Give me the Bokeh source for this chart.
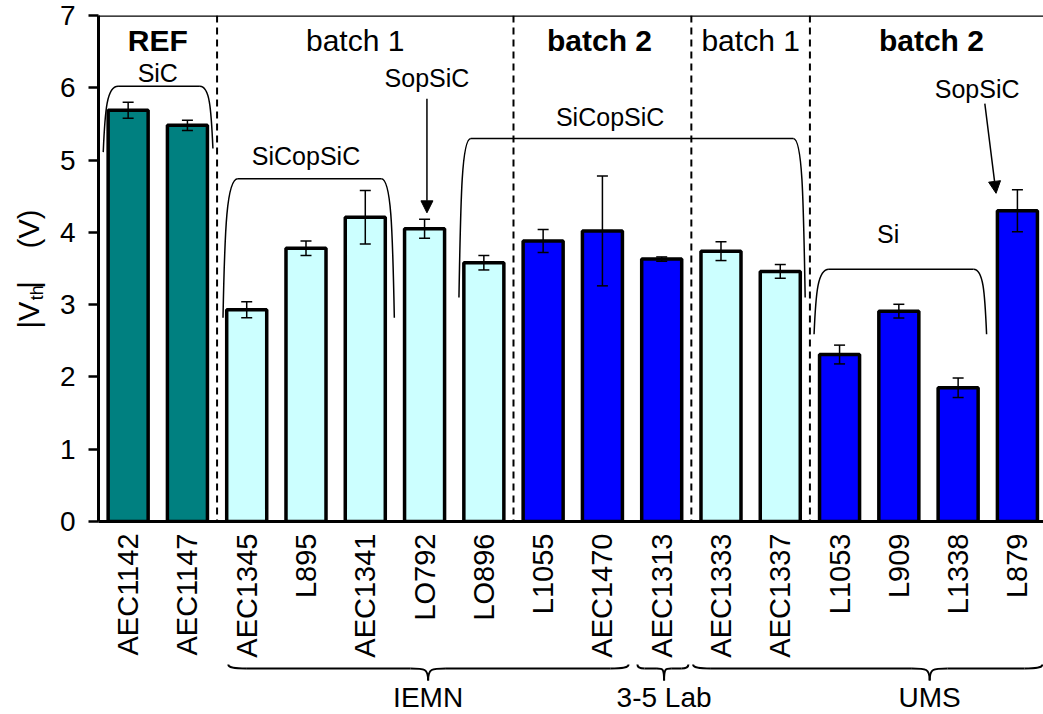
import math
from bokeh.plotting import figure
from bokeh.models import (Range1d, FixedTicker, Span, Whisker, TeeHead, Arrow,
                          NormalHead, ColumnDataSource)
from bokeh.layouts import column, row
from bokeh.core.properties import value
from bokeh.embed import file_html
from bokeh.resources import INLINE

FONT = "Liberation Sans"

# ---------------- data ----------------
categories = ["AEC1142", "AEC1147", "AEC1345", "L895", "AEC1341", "LO792", "LO896",
              "L1055", "AEC1470", "AEC1313", "AEC1333", "AEC1337", "L1053", "L909",
              "L1338", "L879"]
vth = [5.69, 5.48, 2.93, 3.78, 4.21, 4.05, 3.58, 3.88, 4.02, 3.63, 3.74, 3.46,
       2.31, 2.91, 1.85, 4.30]
vth_err = [0.11, 0.07, 0.11, 0.10, 0.37, 0.13, 0.10, 0.16, 0.76, 0.03, 0.13, 0.095,
           0.13, 0.095, 0.135, 0.29]
groups = ["ref", "ref", "b1", "b1", "b1", "b1", "b1", "b2", "b2", "b2", "b1", "b1",
          "b2", "b2", "b2", "b2"]
group_colors = {"ref": "#008080", "b1": "#CCFFFF", "b2": "#0000FF"}

separators = [1.5, 6.5, 9.5, 11.5]
header_text = ["REF", "batch 1", "batch 2", "batch 1", "batch 2"]
header_x = [0.5, 3.83, 7.95, 10.5, 13.55]
header_bold = [True, False, True, False, True]

note_text = ["SiC", "SiCopSiC", "SopSiC", "SiCopSiC", "Si", "SopSiC"]
note_x = [0.5, 3.0, 5.04, 8.13, 12.82, 14.32]
note_y = [6.2, 5.06, 6.13, 5.59, 3.98, 5.99]

lab_names = ["IEMN", "3-5 Lab", "UMS"]
lab_left = [1.69, 8.59, 9.53]
lab_right = [8.44, 9.45, 15.42]
lab_center = [5.06, 9.04, 13.52]

ytitle_text = ["|V", "th", "|", "(V)"]
ytitle_y = [2.67, 3.06, 3.22, 3.78]

x = list(range(len(categories)))
colors = [group_colors[g] for g in groups]

TOP_H = 662
BOT_B = 141
LEFT_W = 46

# ---------------- main figure ----------------
p = figure(width=1043 - LEFT_W, height=TOP_H, x_range=Range1d(-0.5, 15.44),
           y_range=Range1d(0, 7), output_backend="svg", toolbar_location=None,
           min_border_left=98 - LEFT_W, min_border_right=0, min_border_top=15,
           min_border_bottom=BOT_B)
p.grid.visible = False
p.outline_line_color = None
p.background_fill_color = "white"

src = ColumnDataSource(dict(x=x, top=vth, color=colors,
                            upper=[v + e for v, e in zip(vth, vth_err)],
                            lower=[v - e for v, e in zip(vth, vth_err)]))
p.vbar(x="x", top="top", width=0.675, source=src, fill_color="color",
       line_color="black", line_width=3.5)

wh = Whisker(base="x", upper="upper", lower="lower", source=src, level="overlay",
             line_color="black", line_width=1.5,
             upper_head=TeeHead(size=11, line_width=1.5, line_color="black"),
             lower_head=TeeHead(size=11, line_width=1.5, line_color="black"))
p.add_layout(wh)

for s in separators:
    p.add_layout(Span(location=s, dimension="height", line_color="black",
                      line_width=2, line_dash="7 5"))
p.add_layout(Span(location=7, dimension="width", line_color="black", line_width=2.5))

# axes
p.yaxis.ticker = FixedTicker(ticks=list(range(0, 8)))
p.yaxis.minor_tick_line_color = None
p.yaxis.major_tick_out = 10
p.yaxis.major_tick_in = 0
p.yaxis.major_tick_line_width = 2.5
p.yaxis.axis_line_width = 3
p.yaxis.major_label_standoff = 13
p.yaxis.major_label_text_font = FONT
p.yaxis.major_label_text_font_size = "28px"
p.yaxis.major_label_text_color = "black"

p.xaxis.ticker = FixedTicker(ticks=x)
p.xaxis.major_label_overrides = {i: c for i, c in zip(x, categories)}
p.xaxis.major_label_orientation = math.pi / 2
p.xaxis.major_tick_out = 0
p.xaxis.major_tick_in = 0
p.xaxis.minor_tick_line_color = None
p.xaxis.axis_line_width = 3
p.xaxis.major_label_standoff = 12
p.xaxis.major_label_text_font = FONT
p.xaxis.major_label_text_font_size = "29px"
p.xaxis.major_label_text_color = "black"

# headers
bx = [hx for hx, b in zip(header_x, header_bold) if b]
bt = [ht for ht, b in zip(header_text, header_bold) if b]
nx = [hx for hx, b in zip(header_x, header_bold) if not b]
nt = [ht for ht, b in zip(header_text, header_bold) if not b]
p.text(x=bx, y=[6.65] * len(bx), text=bt, text_font=value(FONT), text_font_size="30px",
       text_font_style="bold", text_align="center", text_baseline="middle", text_color="black")
p.text(x=nx, y=[6.65] * len(nx), text=nt, text_font=value(FONT), text_font_size="30px",
       text_align="center", text_baseline="middle", text_color="black")

# annotations
p.text(x=note_x, y=note_y, text=note_text, text_font=value(FONT), text_font_size="25px",
       text_align="center", text_baseline="middle", text_color="black")


def bracket(fig, xl, xr, yt, ybl, ybr, rl, rr):
    fig.bezier(x0=[xl, xr - rr], y0=[ybl, yt], x1=[xl + rl, xr], y1=[yt, ybr],
               cx0=[xl + 0.03, xr - rr * 0.25], cy0=[ybl + 0.65 * (yt - ybl), yt],
               cx1=[xl + rl * 0.25, xr - 0.03], cy1=[yt, ybr + 0.65 * (yt - ybr)],
               line_color="black", line_width=1.5)
    fig.segment(x0=[xl + rl], y0=[yt], x1=[xr - rr], y1=[yt], line_color="black",
                line_width=1.5)


bracket(p, -0.42, 1.43, 6.02, 5.11, 5.16, 0.25, 0.22)
bracket(p, 1.60, 4.49, 4.74, 2.82, 2.82, 0.25, 0.22)
bracket(p, 5.58, 11.42, 5.30, 3.10, 3.10, 0.2, 0.2)
bracket(p, 11.57, 14.48, 3.49, 2.59, 2.59, 0.25, 0.22)

p.add_layout(Arrow(end=NormalHead(size=12, fill_color="black", line_color="black"),
                   x_start=5.04, y_start=5.85, x_end=5.04, y_end=4.27,
                   line_color="black", line_width=1.5))
p.add_layout(Arrow(end=NormalHead(size=12, fill_color="black", line_color="black"),
                   x_start=14.45, y_start=5.78, x_end=14.64, y_end=4.54,
                   line_color="black", line_width=1.5))

# ---------------- left strip with the y-axis title ----------------
left = figure(width=LEFT_W, height=TOP_H, x_range=Range1d(0, LEFT_W), y_range=p.y_range,
              output_backend="svg", toolbar_location=None,
              min_border_left=0, min_border_right=0, min_border_top=15,
              min_border_bottom=BOT_B, x_axis_location=None, y_axis_location=None)
left.grid.visible = False
left.outline_line_color = None
left.text(x=[28, 36, 28, 28], y=ytitle_y, text=ytitle_text, angle=math.pi / 2,
          text_font=value(FONT), text_font_size=["29px", "18px", "29px", "29px"],
          text_align="left", text_baseline="middle", text_color="black")

# ---------------- bottom strip with braces ----------------
BOT_H = 714 - TOP_H
q = figure(width=1043, height=BOT_H, x_range=p.x_range, y_range=Range1d(0, BOT_H),
           output_backend="svg", toolbar_location=None,
           min_border_left=98, min_border_right=0, min_border_top=0, min_border_bottom=0,
           x_axis_location=None, y_axis_location=None)
q.grid.visible = False
q.outline_line_color = None


def brace(fig, xl, xr, xc, r, ytip=50, yh=46, ydip=34):
    fig.bezier(x0=[xl, xc - r, xc, xr - r], y0=[ytip, yh, ydip, yh],
               x1=[xl + r, xc, xc + r, xr], y1=[yh, ydip, yh, ytip],
               cx0=[xl, xc - r * 0.2, xc, xr - r * 0.3], cy0=[yh + 1, yh, yh, yh],
               cx1=[xl + r * 0.3, xc, xc + r * 0.2, xr], cy1=[yh, yh, yh, yh + 1],
               line_color="black", line_width=2)
    fig.segment(x0=[xl + r, xc + r], y0=[yh, yh], x1=[xc - r, xr - r], y1=[yh, yh],
                line_color="black", line_width=2)


for l, r_, c in zip(lab_left, lab_right, lab_center):
    brace(q, l, r_, c, 0.12 if (r_ - l) < 1.5 else 0.3)

q.text(x=lab_center, y=[17] * 3, text=lab_names, text_font=value(FONT),
       text_font_size="28px", text_align="center", text_baseline="middle",
       text_color="black")

layout = column(row(left, p, spacing=0), q, spacing=0)
open("out.html", "w").write(file_html(layout, INLINE))
